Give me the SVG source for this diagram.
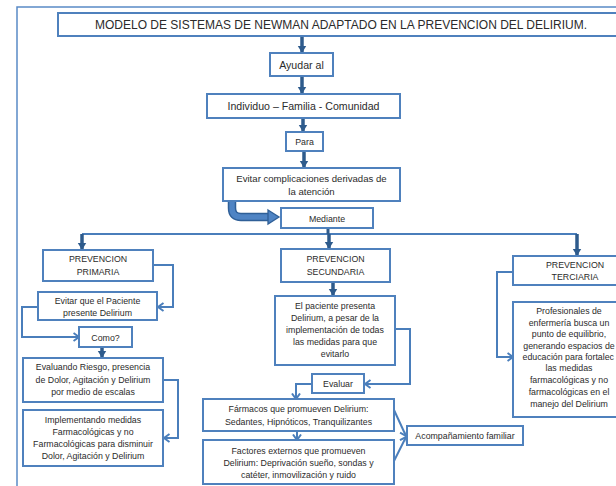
<svg xmlns="http://www.w3.org/2000/svg" width="616" height="486" viewBox="0 0 616 486">
<style>
.box{fill:#fff;stroke:#4f81bd;stroke-width:2}
text{font-family:"Liberation Sans",Arial,sans-serif;fill:#2b2b2b;text-anchor:middle}
.t9{font-size:8.8px}
.t10{font-size:9.6px}
.t11{font-size:10.6px}
.thick{stroke:#2e5b8c;stroke-width:3.5;fill:none}
.thin{stroke:#4a7ebb;stroke-width:2;fill:none}
</style>
<defs>
<marker id="ah" markerUnits="userSpaceOnUse" markerWidth="10" markerHeight="10" refX="7.5" refY="5" orient="auto">
<path d="M0,0.5 L7.5,5 L0,9.5 z" fill="#2e5b8c"/>
</marker>
<marker id="ch" markerUnits="userSpaceOnUse" markerWidth="9" markerHeight="10" refX="6.5" refY="5" orient="auto">
<path d="M1,1 L6.5,5 L1,9" fill="none" stroke="#4a7ebb" stroke-width="2"/>
</marker>
</defs>
<rect width="616" height="486" fill="#fff"/>
<path d="M17,486 V7 H616" fill="none" stroke="#5a8ac6" stroke-width="1.5"/>

<g id="connectors">
<path class="thick" d="M302,36 V53" marker-end="url(#ah)"/>
<path class="thick" d="M302,76 V94" marker-end="url(#ah)"/>
<path class="thick" d="M303,118 V132" marker-end="url(#ah)"/>
<path class="thick" d="M304,151 V168" marker-end="url(#ah)"/>
<path d="M232,201 V208 Q232,217 241,217 H268" fill="none" stroke="#2f5f97" stroke-width="8.5"/>
<path d="M232,202 V208 Q232,217 241,217 H269" fill="none" stroke="#4f84c4" stroke-width="5.5"/>
<path d="M268,210 L279,217 L268,224 z" fill="#4f84c4" stroke="#2f5f97" stroke-width="1.3"/>
<path class="thin" d="M82,234 H577"/>
<path d="M328,228 V234" stroke="#2e5b8c" stroke-width="3" fill="none"/>
<path class="thick" d="M82,234 V250" marker-end="url(#ah)"/>
<path class="thick" d="M329,234 V249" marker-end="url(#ah)"/>
<path class="thick" d="M577,234 V256" marker-end="url(#ah)"/>
<path class="thick" d="M102,347 V358" marker-end="url(#ah)"/>
<path class="thick" d="M333,282 V296" marker-end="url(#ah)"/>
<path class="thin" d="M153,265 H173 V307 H158" marker-end="url(#ch)"/>
<path class="thin" d="M38,307 H22 V337 H79" marker-end="url(#ch)"/>
<path class="thin" d="M163,380 H178 V438 H164" marker-end="url(#ch)"/>
<path class="thin" d="M395,329 H410 V384 H365" marker-end="url(#ch)"/>
<path class="thin" d="M312,384 H296 V399" marker-end="url(#ch)"/>
<path class="thin" d="M297,431 V440" marker-end="url(#ch)"/>
<path class="thin" d="M394,410 L406,436" marker-end="url(#ch)"/>
<path class="thin" d="M394,461 L406,437" marker-end="url(#ch)"/>
<path class="thin" d="M513,272 H497 V357 H513" marker-end="url(#ch)"/>
</g>

<g id="title"><rect class="box" x="58" y="13" width="570" height="23"/>
<text x="341" y="29" style="font-size:12px">MODELO DE SISTEMAS DE NEWMAN ADAPTADO EN LA PREVENCION DEL DELIRIUM.</text></g>

<g id="ayudar"><rect class="box" x="270" y="53" width="63" height="23"/>
<text class="t11" x="301.5" y="68.5">Ayudar al</text></g>

<g id="individuo"><rect class="box" x="207" y="94" width="193" height="24"/>
<text class="t11" x="303.5" y="110">Individuo – Familia - Comunidad</text></g>

<g id="para"><rect class="box" x="286" y="132" width="37" height="19"/>
<text class="t9" x="304.5" y="145">Para</text></g>

<g id="evitar"><rect class="box" x="223" y="168" width="177" height="33"/>
<text class="t10" x="311.5" y="181.5">Evitar complicaciones derivadas de</text>
<text class="t10" x="311.5" y="194.5">la atención</text></g>

<g id="mediante"><rect class="box" x="281" y="208" width="92" height="20"/>
<text class="t9" x="327" y="221.5">Mediante</text></g>

<g id="primaria"><rect class="box" x="43" y="250" width="110" height="31"/>
<text class="t9" x="98" y="262">PREVENCION</text>
<text class="t9" x="98" y="275">PRIMARIA</text></g>

<g id="evitar-paciente"><rect class="box" x="38" y="292" width="119" height="28"/>
<text class="t9" x="97.5" y="304">Evitar que el Paciente</text>
<text class="t9" x="97.5" y="316">presente Delirium</text></g>

<g id="como"><rect class="box" x="79" y="327" width="53" height="20"/>
<text class="t9" x="105.5" y="340.5">Como?</text></g>

<g id="evaluando"><rect class="box" x="23" y="358" width="140" height="44"/>
<text class="t9" x="93" y="370">Evaluando Riesgo, presencia</text>
<text class="t9" x="93" y="383">de Dolor, Agitación y Delirium</text>
<text class="t9" x="93" y="395">por medio de escalas</text></g>

<g id="implementando"><rect class="box" x="23" y="410" width="140" height="56"/>
<text class="t9" x="93" y="423">Implementando  medidas</text>
<text class="t9" x="93" y="435">Farmacológicas y no</text>
<text class="t9" x="93" y="447">Farmacológicas para disminuir</text>
<text class="t9" x="93" y="459">Dolor, Agitación y Delirium</text></g>

<g id="secundaria"><rect class="box" x="281" y="249" width="109" height="33"/>
<text class="t9" x="335.5" y="262">PREVENCION</text>
<text class="t9" x="335.5" y="275">SECUNDARIA</text></g>

<g id="paciente"><rect class="box" x="275" y="296" width="120" height="69"/>
<text class="t9" x="335" y="309">El paciente presenta</text>
<text class="t9" x="335" y="321">Delirium, a pesar de la</text>
<text class="t9" x="335" y="333">implementación de todas</text>
<text class="t9" x="335" y="345">las medidas para que</text>
<text class="t9" x="335" y="357">evitarlo</text></g>

<g id="evaluar"><rect class="box" x="312" y="374" width="52" height="19"/>
<text class="t9" x="338" y="387">Evaluar</text></g>

<g id="farmacos"><rect class="box" x="203" y="399" width="191" height="32"/>
<text class="t9" x="298.5" y="412">Fármacos que promueven  Delirium:</text>
<text class="t9" x="298.5" y="425">Sedantes, Hipnóticos, Tranquilizantes</text></g>

<g id="factores"><rect class="box" x="203" y="440" width="191" height="44"/>
<text class="t9" x="298.5" y="454">Factores externos  que promueven</text>
<text class="t9" x="298.5" y="466">Delirium: Deprivación sueño,  sondas y</text>
<text class="t9" x="298.5" y="478">catéter, inmovilización y ruido</text></g>

<g id="acompanamiento"><rect class="box" x="407" y="426" width="116" height="19"/>
<text class="t9" x="465" y="439">Acompañamiento familiar</text></g>

<g id="terciaria"><rect class="box" x="513" y="256" width="110" height="29"/>
<text class="t9" x="575" y="267.5">PREVENCION</text>
<text class="t9" x="575" y="280">TERCIARIA</text></g>

<g id="profesionales"><rect class="box" x="513" y="302" width="110" height="115"/>
<text class="t9" x="569" y="314">Profesionales de</text>
<text class="t9" x="569" y="326">enfermería  busca un</text>
<text class="t9" x="569" y="337">punto de equilibrio,</text>
<text class="t9" x="569" y="349">generando espacios de</text>
<text class="t9" x="614" y="360" style="text-anchor:end">educación para fortalec</text>
<text class="t9" x="569" y="371">las medidas</text>
<text class="t9" x="569" y="383">farmacológicas y no</text>
<text class="t9" x="569" y="395">farmacológicas en el</text>
<text class="t9" x="569" y="407">manejo del Delirium</text></g>
</svg>
